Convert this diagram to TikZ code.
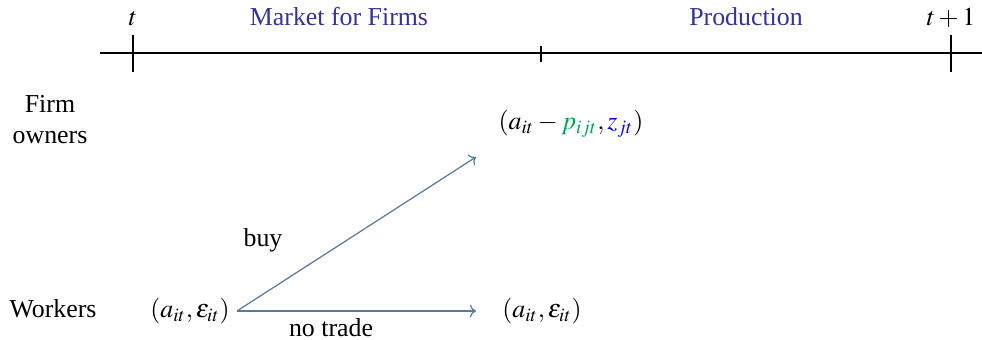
\documentclass[tikz,border=0pt]{standalone}
\usepackage{mathptmx}
\usepackage{fontspec}
\setmainfont{Liberation Serif}
\usepackage{xcolor}
\usetikzlibrary{arrows.meta,positioning}
\definecolor{phaseblue}{RGB}{51,51,153}
\definecolor{flowgray}{RGB}{90,122,154}
\definecolor{pricegreen}{RGB}{0,160,80}
\tikzset{
  flowarr/.style={->, draw=flowgray, semithick},
  phaselab/.style={anchor=base, text=phaseblue, inner sep=0pt},
  statelab/.style={anchor=base, inner sep=0pt},
}

\begin{document}
\begin{tikzpicture}[
  x=0.017cm, y=-0.017cm,
  font=\fontsize{12.5}{15}\selectfont,
  tick/.style={thick, line cap=butt},
]
  \useasboundingbox (0,0) rectangle (982,340);
  % time line
  \coordinate (L) at (100,53);
  \coordinate (R) at (982,53);
  \draw[thick] (L) -- (R);
  \draw[tick] (133,35) -- (133,72);
  \draw[tick] (541,46) -- (541,62);
  \draw[tick] (951,35) -- (951,72);
  \node[statelab] (t0) at (133,26) {$t$};
  \node[statelab] (t1) at (951,26) {$t+1$};
  \node[phaselab] (mkt) at (339,26) {Market for Firms};
  \node[phaselab] (prod) at (746,26) {Production};
  % rows
  \node[statelab, align=center] (own) at (50,144) {Firm\\owners};
  \node[statelab] (wrk) at (53,318) {Workers};
  \node[statelab] (w0) at (190,318) {$(a_{it},\varepsilon_{it})$};
  \node[statelab] (f1) at (571,130) {$(a_{it}-\textcolor{pricegreen}{p_{ijt}},\textcolor{blue}{z_{jt}})$};
  \node[statelab] (w1) at (542,318) {$(a_{it},\varepsilon_{it})$};
  \coordinate (s) at (237,311);
  \coordinate (eb) at (476,157);
  \coordinate (en) at (476,311);
  \draw[flowarr] (s) -- (eb);
  \draw[flowarr] (s) -- (en);
  \node[statelab] (buy) at (263,247) {buy};
  \node[statelab] (nt) at (331,337) {no trade};
\end{tikzpicture}
\end{document}
